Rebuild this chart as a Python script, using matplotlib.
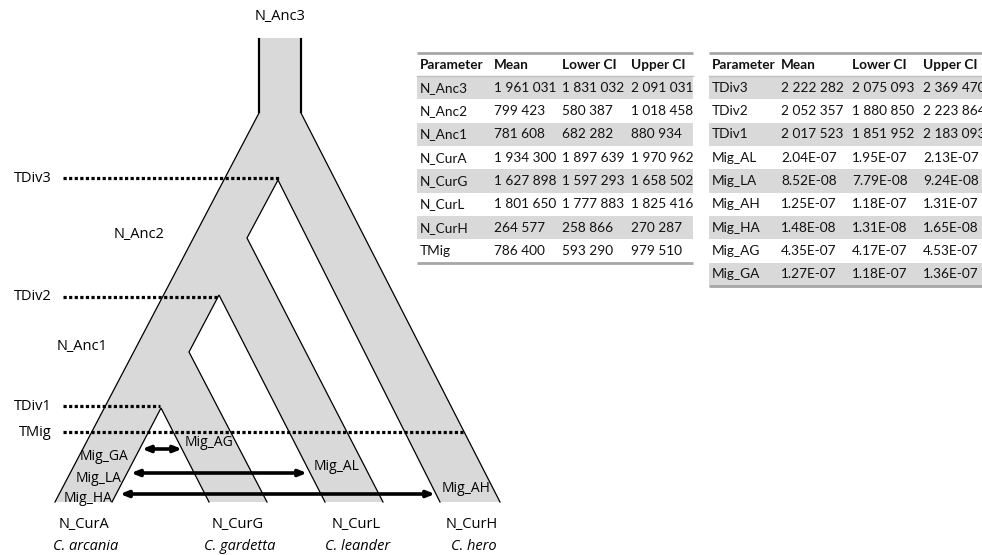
import matplotlib.pyplot as plt
from matplotlib.patches import Polygon, Rectangle

# table values
hdr = ["Parameter", "Mean", "Lower CI", "Upper CI"]
params1 = ["N_Anc3", "N_Anc2", "N_Anc1", "N_CurA", "N_CurG", "N_CurL", "N_CurH", "TMig"]
mean1 = ["1 961 031", "799 423", "781 608", "1 934 300", "1 627 898", "1 801 650", "264 577", "786 400"]
lower1 = ["1 831 032", "580 387", "682 282", "1 897 639", "1 597 293", "1 777 883", "258 866", "593 290"]
upper1 = ["2 091 031", "1 018 458", "880 934", "1 970 962", "1 658 502", "1 825 416", "270 287", "979 510"]

params2 = ["TDiv3", "TDiv2", "TDiv1", "Mig_AL", "Mig_LA", "Mig_AH", "Mig_HA", "Mig_AG", "Mig_GA"]
mean2 = ["2 222 282", "2 052 357", "2 017 523", "2.04E-07", "8.52E-08", "1.25E-07", "1.48E-08", "4.35E-07", "1.27E-07"]
lower2 = ["2 075 093", "1 880 850", "1 851 952", "1.95E-07", "7.79E-08", "1.18E-07", "1.31E-08", "4.17E-07", "1.18E-07"]
upper2 = ["2 369 470", "2 223 864", "2 183 093", "2.13E-07", "9.24E-08", "1.31E-07", "1.65E-08", "4.53E-07", "1.36E-07"]

# tree: divergence levels (y) and tip labels
div_names = ["TDiv3", "TDiv2", "TDiv1", "TMig"]
div_y = [178, 297, 406, 432]
div_end = [280, 218, 160, 463]
tips = ["N_CurA", "N_CurG", "N_CurL", "N_CurH"]
species = ["C. arcania", "C. gardetta", "C. leander", "C. hero"]
tip_x = [84, 238, 356, 472]

# migration arrows
mig_left = ["Mig_GA", "Mig_LA", "Mig_HA"]
mig_right = ["Mig_AG", "Mig_AL", "Mig_AH"]
mig_y = [449, 473, 494]
mig_x0 = [142, 131, 120]
mig_x1 = [182, 307, 435]

GREY = "#d9d9d9"
FONT = "Open Sans"
TFONT = "Lato"

fig = plt.figure(figsize=(9.82, 5.55), dpi=100)
ax = fig.add_axes([0, 0, 1, 1])
ax.set_xlim(0, 982)
ax.set_ylim(555, 0)
ax.axis("off")

# tree outline
top, fork, bot = 38, 113, 502
outline = [(259, top), (301, top), (301, fork), (500, bot), (440, bot), (278, 180),
           (247, 238), (383, bot), (325, bot), (219, 295), (189, 352), (267, bot),
           (209, bot), (161, 408), (112, bot), (55, bot), (259, fork)]
ax.add_patch(Polygon(outline, closed=True, facecolor=GREY, edgecolor="none", zorder=1))

segs = [[(259, fork), (55, bot)], [(301, fork), (500, bot)],
        [(440, bot), (278, 180), (247, 238), (383, bot)],
        [(325, bot), (219, 295), (189, 352), (267, bot)],
        [(209, bot), (161, 408), (112, bot)]]
for s in segs:
    xs, ys = zip(*s)
    ax.plot(xs, ys, color="black", lw=0.9, zorder=2, solid_joinstyle="miter")
for x in (259, 301):
    ax.plot([x, x], [top, fork], color="black", lw=1.6, zorder=2, solid_capstyle="butt")

# divergence dotted lines
for name, y, xe in zip(div_names, div_y, div_end):
    ax.plot([63, xe], [y, y], color="black", lw=2.3, ls=(0, (1, 0.75)), zorder=3)
    ax.text(52, y, name, ha="right", va="center", fontsize=10.5, family=FONT)

ax.text(280, 16, "N_Anc3", ha="center", va="center", fontsize=10.5, family=FONT)
ax.text(139, 235, "N_Anc2", ha="center", va="center", fontsize=10.5, family=FONT)
ax.text(82, 347, "N_Anc1", ha="center", va="center", fontsize=10.5, family=FONT)

for x, t, sp in zip(tip_x, tips, species):
    ax.text(x, 525, t, ha="center", va="center", fontsize=10.5, family=FONT)
    ax.text(x + 2, 547, sp, ha="center", va="center", fontsize=10.5, family=FONT, style="italic")

lbl_l = [(104, 457), (99, 479), (88, 498)]
lbl_r = [(209, 443), (337, 467), (466, 488)]
for i in range(3):
    ax.annotate("", xy=(mig_x0[i], mig_y[i]), xytext=(mig_x1[i], mig_y[i]),
                arrowprops=dict(arrowstyle="<|-|>,head_length=0.45,head_width=0.18",
                                color="black", lw=2.6, shrinkA=0, shrinkB=0), zorder=4)
    ax.text(lbl_l[i][0], lbl_l[i][1], mig_left[i], ha="center", va="center", fontsize=10, family=FONT)
    ax.text(lbl_r[i][0], lbl_r[i][1], mig_right[i], ha="center", va="center", fontsize=10, family=FONT)


def draw_table(x0, x1, cols, names, m, lo, up):
    rh = 23.35
    y0 = 76
    ax.plot([x0, x1], [53, 53], color="#a6a6a6", lw=2.0, solid_capstyle="butt")
    for h, cx in zip(hdr, cols):
        ax.text(cx, 65, h, ha="left", va="center", fontsize=9.8, family=TFONT,
                weight="bold", color="#111111")
    ax.plot([x0, x1], [y0, y0], color="#bfbfbf", lw=1.0)
    for i, row in enumerate(zip(names, m, lo, up)):
        yc = y0 + rh * (i + 0.5)
        if i % 2 == 0:
            ax.add_patch(Rectangle((x0, y0 + rh * i), x1 - x0, rh, facecolor=GREY,
                                   edgecolor="none", zorder=0))
        for v, cx in zip(row, cols):
            ax.text(cx, yc, v, ha="left", va="center", fontsize=9.8, family=TFONT,
                    color="#111111")
    yb = y0 + rh * len(names)
    ax.plot([x0, x1], [yb, yb], color="#a6a6a6", lw=2.0, solid_capstyle="butt")


draw_table(417, 693, [420, 494, 562, 631], params1, mean1, lower1, upper1)
draw_table(709, 990, [712, 781, 852, 923], params2, mean2, lower2, upper2)

fig.savefig("out.png", dpi=100)
